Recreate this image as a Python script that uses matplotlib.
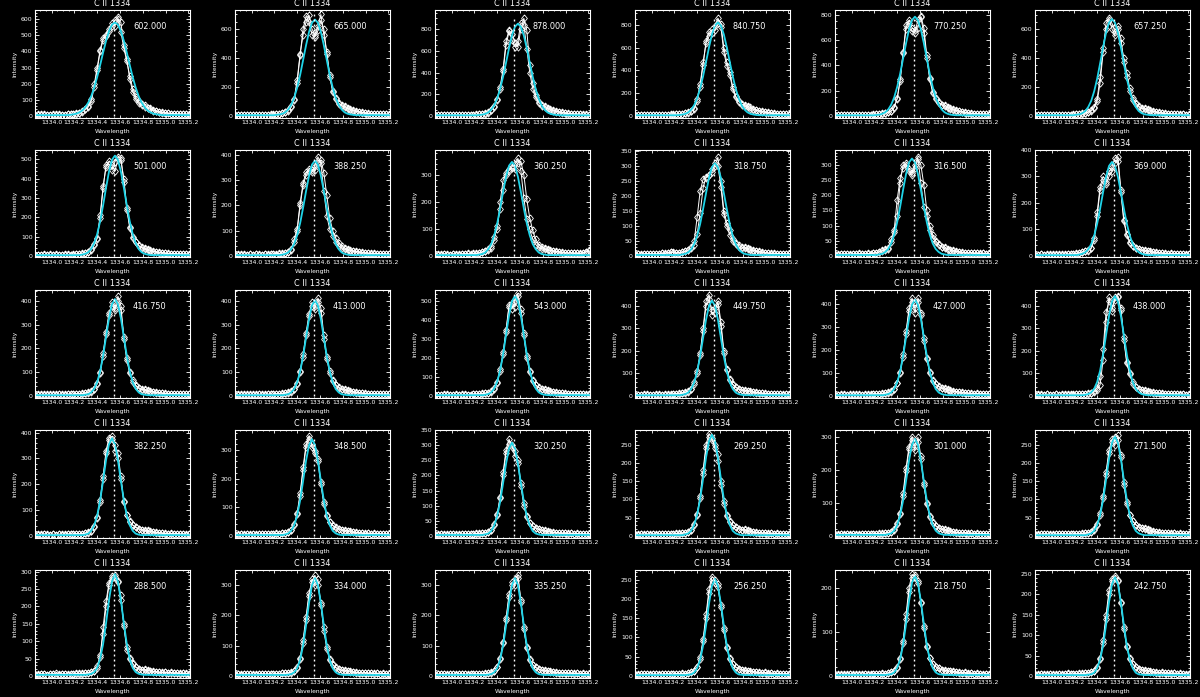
import numpy as np
import matplotlib
matplotlib.use("Agg")
import matplotlib.pyplot as plt
from matplotlib.ticker import FixedLocator, MultipleLocator, FormatStrFormatter

# ---------------- data ----------------
wave_start = 1333.854
wave_step = 0.026
n_wave = 53
wave = wave_start + wave_step * np.arange(n_wave)   # spectral sampling grid
line_center = 1334.548

x_min, x_max = 1333.854, 1335.215
x_ticks = [1334.0, 1334.2, 1334.4, 1334.6, 1334.8, 1335.0, 1335.2]
x_tick_labels = ["1334.0", "1334.2", "1334.4", "1334.6", "1334.8", "1335.0", "1335.2"]
panel_title = "C II 1334"
x_title = "Wavelength"
y_title = "Intensity"

peak_labels = [602.000, 665.000, 878.000, 840.750, 770.250, 657.250,
               501.000, 388.250, 360.250, 318.750, 316.500, 369.000,
               416.750, 413.000, 543.000, 449.750, 427.000, 438.000,
               382.250, 348.500, 320.250, 269.250, 301.000, 271.500,
               288.500, 334.000, 335.250, 256.250, 218.750, 242.750]
y_top = [657, 731, 977, 930, 840, 732,
         548, 420, 392, 352, 349, 400,
         446, 446, 560, 470, 460, 470,
         410, 370, 350, 290, 320, 290,
         305, 350, 350, 275, 240, 260]
y_step = [100, 200, 200, 200, 200, 200,
          100, 100, 100, 50, 50, 100,
          100, 100, 100, 100, 100, 100,
          100, 100, 50, 50, 100, 50,
          50, 100, 100, 50, 100, 50]

# two observed profiles (A, B) and the fitted profile, all on the wavelength grid
obs_a_01 = [8,6,9,7,5,8,6,9,7,8,6,9,10,12,15,20,30,45,62,103,195,300,410,483,495,525,560,592,612,520,421,339,250,170,118,90,72,58,48,40,33,28,24,20,18,15,13,12,10,11,9,10,8]
obs_b_01 = [6,9,7,10,8,6,9,7,10,8,7,10,9,12,14,18,26,40] + [55,90,180,285,400,470,505,540,575,560,600,580,440,350,230,150,105,80,65] + [66,52,46,36,32,27,24,19,18,14,14,11,12,10,11,9]
fit_01 = [5]*12 + [7,10,14,22,34,54,83,123,176,241,315,393,466,526,566,580,566,526,466,393,315,241,176,123,83,54,34,22,14,10,7] + [5]*10

obs_a_02 = [7,5,8,6,9,5,7,8,6,9,7,8,10,9,11,13,18,28,40,69,120,250,430,560,650,695,600,560,620,700,560,440,280,175,125,90,72,60,50,42,36,30,26,22,19,16,14,13,11,12,10,11,9]
obs_b_02 = [6,8,7,9,6,8,9,7,8,6,9,8,9,11,12,15,20,26] + [35,60,110,230,420,600,690,650,560,545,590,660,600,430,270,165,115,85,68] + [68,57,47,40,35,29,25,21,19,16,15,12,13,11,12,10]
fit_02 = [5]*14 + [7,10,15,25,45,77,126,195,283,385,488,580,643,665,643,580,488,385,283,195,126,77,45,25,15,10,7] + [5]*12

obs_a_03 = [9,7,10,8,6,9,8,10,7,9,8,10,9,11,12,14,17,22,35,55,92,160,270,430,690,790,760,670,640,800,900,790,470,300,190,130,100,80,66,56,48,40,34,29,25,21,18,16,14,15,12,13,11]
obs_b_03 = [8,10,7,9,11,8,10,9,11,8,10,9,12,13,14,16,20,25] + [30,50,85,150,250,410,650,780,700,640,690,860,840,620,400,250,170,120,95] + [92,75,64,53,46,38,33,28,24,21,18,16,17,14,15,12]
fit_03 = [6]*15 + [9,12,19,32,57,98,161,249,362,492,625,742,822,851,822,742,625,492,362,249,161,98,57,32,19,12,9] + [6]*11

obs_a_04 = [9,8,10,7,9,8,10,9,8,11,9,10,12,11,13,15,18,24,34,45,58,131,256,450,654,741,727,790,858,808,600,470,384,256,174,130,105,88,75,65,56,48,42,36,31,27,23,20,17,16,14,13,12]
obs_b_04 = [10,8,11,9,10,8,11,10,9,12,10,11,13,14,15,17,20,24] + [28,40,70,150,280,470,640,700,760,750,820,780,560,440,360,240,165,125,100] + [100,86,74,63,55,47,41,35,30,26,23,20,18,16,15,13]
fit_04 = [6]*15 + [8,12,18,31,55,95,155,241,349,475,603,716,793,821,793,716,603,475,349,241,155,95,55,31,18,12,8] + [6]*11

obs_a_05 = [8,6,9,7,8,6,9,8,7,9,8,10,9,11,12,14,18,24,30,38,70,136,276,504,722,735,670,661,761,782,656,459,289,184,135,105,88,75,64,55,47,40,35,30,26,22,19,16,15,14,12,13,11]
obs_b_05 = [7,9,6,8,9,7,10,9,8,10,7,11,10,12,13,16,20,24] + [28,40,65,140,290,500,690,760,700,680,700,790,700,480,300,190,140,110,90] + [86,73,63,54,46,40,34,29,25,21,19,17,16,14,15,12]
fit_05 = [5]*14 + [7,10,17,29,52,90,148,230,334,455,577,686,760,787,760,686,577,455,334,230,148,90,52,29,17,10,7] + [5]*12

obs_a_06 = [7,6,8,5,7,9,6,8,7,9,6,8,9,8,10,12,15,20,28,40,60,100,230,440,640,675,600,561,618,503,400,300,190,125,90,70,57,47,40,34,29,25,21,18,16,14,12,11,10,9,10,8,9]
obs_b_06 = [6,8,7,9,6,8,7,9,8,6,9,7,8,10,11,13,17,22] + [25,35,55,120,270,470,600,660,640,580,600,540,370,270,175,110,80,62,50] + [55,46,39,33,28,24,21,18,16,14,13,11,10,11,9,10]
fit_06 = [5]*14 + [8,11,19,34,62,105,171,258,364,475,575,645,670,645,575,475,364,258,171,105,62,34,19,11,8] + [5]*14

obs_a_07 = [6,5,7,4,6,8,5,7,6,5,8,6,7,6,8,9,11,15,22,35,60,90,197,351,471,476,445,488,510,505,385,240,146,94,70,52,42,35,30,26,22,19,17,15,13,12,10,11,9,10,8,9,7]
obs_b_07 = [5,7,6,8,5,7,6,8,7,6,5,8,7,9,10,12,14,16] + [18,30,55,95,210,360,460,490,470,440,500,495,400,250,150,98,72,55,44] + [40,34,30,25,22,19,17,15,13,12,12,10,11,9,10,8]
fit_07 = [4]*16 + [7,11,19,36,66,113,179,262,353,437,497,519,497,437,353,262,179,113,66,36,19,11,7] + [4]*14

obs_a_08 = [5,4,6,3,5,7,4,6,5,4,6,5,7,6,5,8,9,12,16,26,66,108,210,289,332,338,332,357,393,367,256,160,105,79,55,40,32,27,23,20,18,16,14,12,11,10,9,8,9,7,8,6,7]
obs_b_08 = [4,6,5,7,4,6,5,7,6,4,7,6,8,7,9,10,11,12] + [14,24,55,100,200,280,320,345,340,340,370,380,330,240,150,100,70,50,38] + [31,27,23,20,18,16,14,12,11,10,10,9,8,9,7,8]
fit_08 = [3]*16 + [5,8,14,27,48,82,130,191,257,318,362,378,362,318,257,191,130,82,48,27,14,8,5] + [3]*14

obs_a_09 = [5,4,6,7,5,4,8,6,5,7,6,9,5,7,8,10,14,20,25,31,70,98,200,280,306,315,330,340,361,316,214,137,98,61,42,33,27,24,21,19,17,15,14,12,11,10,11,9,10,8,11,14,20]
obs_b_09 = [4,6,5,8,6,5,7,5,6,8,7,6,8,9,10,12,15,18] + [22,35,60,110,175,245,300,320,325,320,345,350,300,210,140,95,62,42,32] + [28,24,21,19,17,15,14,12,11,12,10,11,9,12,16,22]
fit_09 = [3]*15 + [5,7,13,25,44,76,120,176,237,293,334,348,334,293,237,176,120,76,44,25,13,7,5] + [3]*15

obs_a_10 = [5,6,4,7,5,8,6,5,7,9,8,10,12,11,9,10,12,15,20,25,35,72,143,226,262,268,280,300,328,250,150,110,85,57,42,35,30,26,22,19,17,15,13,11,10,9,8,7,8,6,7,5,6]
obs_b_10 = [6,5,7,6,8,5,7,6,8,10,9,11,13,12,10,11,13,15] + [18,28,50,130,215,255,260,270,290,310,300,230,140,100,70,50,38,30,25] + [30,25,22,19,17,15,13,11,10,9,9,8,7,8,6,7]
fit_10 = [3]*16 + [5,7,12,22,40,67,106,156,209,260,295,308,295,260,209,156,106,67,40,22,12,7,5] + [3]*14

obs_a_11 = [5,4,6,5,7,4,6,5,8,6,5,7,6,9,11,14,18,22,27,55,87,185,256,290,305,286,273,300,325,240,160,133,87,60,45,36,30,25,21,18,16,14,12,11,10,9,10,8,9,7,8,6,7]
obs_b_11 = [4,6,5,7,5,6,7,5,6,7,6,8,7,9,11,13,16,20] + [24,45,80,130,240,300,300,280,265,290,318,300,235,150,100,68,50,38,30] + [29,24,21,18,16,14,12,11,10,11,9,10,8,9,7,8]
fit_11 = [3]*15 + [5,7,13,23,41,70,111,162,218,270,308,321,308,270,218,162,111,70,41,23,13,7,5] + [3]*15

obs_a_12 = [5,4,6,5,4,7,5,6,4,7,5,6,8,7,9,11,14,18,24,31,69,165,262,300,281,319,335,369,375,250,137,81,50,38,30,26,22,19,17,15,13,12,11,10,9,8,9,7,8,6,7,5,6]
obs_b_12 = [4,5,7,4,6,5,7,5,6,5,6,7,6,8,10,12,15,18] + [20,28,60,150,250,285,270,300,320,350,360,240,130,80,52,38,30,25,21] + [22,19,17,15,14,12,11,10,9,10,8,9,7,8,6,7]
fit_12 = [3]*15 + [5,8,14,25,45,77,122,179,241,299,340,355,340,299,241,179,122,77,45,25,14,8,5] + [3]*15

obs_a_13 = [5,4,6,5,7,4,6,5,7,6,5,8,6,7,9,8,10,12,15,20,30,55,100,180,270,350,380,370,420,380,250,160,100,65,45,35,28,24,20,18,16,14,12,11,10,9,8,9,7,8,6,7,6]
obs_b_13 = [4,6,5,7,5,6,4,7,6,5,7,6,8,7,9,10,11,12] + [14,18,28,50,95,170,260,340,395,360,400,360,240,150,95,60,42,32,26] + [28,23,20,18,16,14,12,11,10,9,10,8,9,7,8,7]
fit_13 = [3]*17 + [5,7,15,30,58,104,169,249,327,386,408,386,327,249,169,104,58,30,15,7,5] + [3]*15

obs_a_14 = [4,6,5,7,5,6,4,7,6,5,8,6,7,6,8,9,10,12,15,20,30,55,105,175,265,345,395,365,412,370,255,165,105,68,48,37,30,25,21,18,16,14,12,11,10,9,8,9,7,8,6,7,6]
obs_b_14 = [5,4,6,5,7,5,6,4,7,6,5,7,6,8,9,10,11,12] + [14,18,28,52,100,165,255,335,380,380,395,350,240,155,98,62,44,33,27] + [29,24,21,18,16,14,12,11,10,9,10,8,9,7,8,7]
fit_14 = [3]*17 + [5,7,15,29,57,103,167,246,323,381,403,381,323,246,167,103,57,29,15,7,5] + [3]*15

obs_a_15 = [6,5,7,5,8,6,5,7,6,8,5,7,6,8,9,10,12,14,18,25,40,75,140,230,350,480,460,500,543,440,320,200,125,80,56,44,36,30,26,22,19,17,15,13,12,11,10,9,10,8,9,7,8]
obs_b_15 = [5,7,6,8,5,7,6,8,7,5,8,6,7,9,10,11,13,14] + [16,22,36,70,130,220,340,470,490,470,530,460,330,210,130,82,58,45,36] + [35,30,26,22,19,17,15,14,12,11,10,11,9,10,8,9]
fit_15 = [4]*17 + [6,10,19,39,75,135,220,323,425,501,529,501,425,323,220,135,75,39,19,10,6] + [4]*15

obs_a_16 = [5,4,6,5,7,4,6,5,7,6,5,8,6,7,9,10,12,15,20,32,60,110,190,300,420,450,360,370,420,330,200,120,75,52,40,32,27,23,20,18,16,14,12,11,10,9,8,9,7,8,6,7,6]
obs_b_16 = [4,6,5,7,4,6,5,7,6,5,7,6,8,9,10,12,14,16] + [18,30,55,100,180,290,400,430,380,390,410,310,190,115,72,50,38,30,25] + [27,23,21,18,16,14,12,11,10,9,10,8,9,7,8,7]
fit_16 = [3]*16 + [5,8,15,31,60,108,176,258,339,400,423,400,339,258,176,108,60,31,15,8,5] + [3]*16

obs_a_17 = [5,6,4,7,5,6,8,5,7,6,5,7,6,8,7,9,10,12,15,21,32,58,105,180,280,380,425,360,425,360,250,165,105,70,52,42,35,30,26,22,19,17,15,13,12,11,10,9,10,8,9,7,8]
obs_b_17 = [6,4,7,5,6,8,5,7,6,5,7,6,8,7,9,10,11,12] + [14,19,30,55,100,170,270,370,410,380,410,350,240,160,100,66,50,40,33] + [35,30,26,22,19,17,15,14,12,11,10,11,9,10,8,9]
fit_17 = [3]*17 + [5,8,15,30,59,106,174,255,335,396,418,396,335,255,174,106,59,30,15,8,5] + [3]*15

obs_a_18 = [6,4,7,5,8,6,5,7,6,4,8,6,7,5,8,9,7,9,11,14,18,25,50,160,330,438,379,438,438,390,250,144,96,55,38,31,26,22,19,16,14,12,11,10,9,8,9,7,8,6,7,5,6]
obs_b_18 = [5,7,4,6,7,5,6,8,5,7,5,7,6,8,7,8,9,9] + [10,15,22,35,88,206,371,420,390,425,445,380,260,150,100,60,40,32,27] + [26,22,19,16,14,12,11,10,9,10,8,9,7,8,6,7]
fit_18 = [3]*17 + [5,8,16,32,62,113,184,270,355,419,443,419,355,270,184,113,62,32,16,8,5] + [3]*15

obs_a_19 = [5,4,6,7,5,4,6,5,7,6,5,8,6,7,6,8,9,11,14,20,38,75,140,230,330,380,385,330,320,230,130,80,55,42,34,28,24,20,18,16,14,12,11,10,9,8,9,7,8,6,7,5,6]
obs_b_19 = [4,6,5,7,6,5,7,4,6,5,7,6,8,7,9,8,9,10] + [12,18,35,70,130,220,320,370,375,350,300,220,135,82,56,42,33,27,23] + [24,21,18,16,14,12,11,10,9,10,8,9,7,8,6,7]
fit_19 = [3]*17 + [5,9,20,41,79,138,214,294,355,378,355,294,214,138,79,41,20,9,5] + [3]*17

obs_a_20 = [4,5,6,4,7,5,6,4,5,7,6,5,7,6,8,7,9,10,13,20,40,80,150,240,320,350,310,295,260,180,110,70,48,36,29,25,21,18,16,14,12,11,10,9,8,9,7,8,6,7,5,6,5]
obs_b_20 = [5,4,6,5,7,4,6,5,6,5,7,6,8,7,9,8,9,10] + [12,19,38,75,140,230,310,340,320,290,270,190,120,72,50,37,30,25,21] + [21,18,16,14,12,11,10,9,10,8,9,7,8,6,7,6]
fit_20 = [3]*17 + [5,9,18,37,71,124,192,263,317,338,317,263,192,124,71,37,18,9,5] + [3]*17

obs_a_21 = [5,4,6,5,4,7,5,6,4,6,5,7,6,5,7,8,9,10,13,20,38,72,130,210,285,320,295,280,240,165,100,62,42,32,26,22,19,16,14,12,11,10,9,8,9,7,8,6,7,5,6,5,6]
obs_b_21 = [4,5,6,4,6,5,7,4,6,5,6,7,5,6,8,7,9,10] + [12,18,36,68,125,200,275,305,300,265,250,175,110,66,44,33,27,22,19] + [19,16,14,12,11,10,9,10,8,9,7,8,6,7,6,7]
fit_21 = [3]*17 + [5,8,16,34,65,113,175,239,289,308,289,239,175,113,65,34,16,8,5] + [3]*17

obs_a_22 = [4,3,5,4,6,3,5,4,6,5,4,6,5,4,6,7,8,9,11,17,32,60,110,180,250,280,262,250,205,140,88,55,38,29,24,20,17,15,13,11,10,9,8,7,8,6,7,5,6,5,4,5,4]
obs_b_22 = [3,4,5,3,5,4,6,3,5,4,5,4,6,5,7,6,8,9] + [10,15,30,58,105,170,240,270,268,240,225,150,95,58,40,30,24,20,17] + [18,15,13,11,10,9,8,9,7,8,6,7,6,5,6,5]
fit_22 = [2]*17 + [4,7,14,30,58,101,157,215,260,277,260,215,157,101,58,30,14,7,4] + [2]*17

obs_a_23 = [5,4,6,5,7,4,6,5,4,7,5,6,5,7,6,8,7,9,10,13,20,38,70,130,205,270,300,260,298,240,160,95,58,40,30,24,20,17,15,13,11,10,9,8,9,7,8,6,7,5,6,5,6]
obs_b_23 = [4,5,6,4,6,5,7,4,6,5,6,7,6,5,7,6,8,8] + [9,12,18,35,66,120,195,262,290,272,285,232,155,98,60,41,31,25,21] + [20,17,15,13,11,10,9,10,8,9,7,8,6,7,6,7]
fit_23 = [3]*18 + [5,8,16,32,62,107,166,228,275,293,275,228,166,107,62,32,16,8,5] + [3]*16

obs_a_24 = [4,3,5,4,6,3,5,4,6,5,4,6,5,4,6,5,7,8,9,12,18,33,62,110,175,235,265,270,275,215,140,88,56,40,31,25,21,18,15,13,11,10,9,8,7,8,6,7,5,6,5,4,5]
obs_b_24 = [3,5,4,6,4,5,3,5,4,6,5,4,5,6,4,6,6,7] + [8,11,16,30,58,104,168,228,258,250,262,222,148,92,58,41,31,25,21] + [21,18,15,13,11,10,9,8,9,7,8,6,7,6,5,6]
fit_24 = [2]*18 + [4,7,14,29,57,99,154,211,255,272,255,211,154,99,57,29,14,7,4] + [2]*16

obs_a_25 = [5,4,6,5,4,6,5,7,4,6,5,4,6,5,7,5,6,8,9,11,14,22,55,140,215,268,288,290,272,232,145,75,53,36,26,21,18,16,15,13,12,11,10,9,10,8,9,7,8,6,7,6,5]
obs_b_25 = [4,5,5,6,4,5,6,4,6,5,6,5,5,6,6,7,7,7] + [8,10,13,28,60,120,200,262,282,285,270,220,150,82,50,34,25,20,17] + [19,17,15,13,12,11,10,11,9,10,8,9,7,8,7,6]
fit_25 = [3]*18 + [4,6,11,23,49,92,152,219,272,293,272,219,152,92,49,23,11,6,4] + [3]*16

obs_a_26 = [5,6,4,7,5,6,4,5,7,6,5,7,6,5,7,6,8,9,10,12,16,28,60,120,195,275,310,332,300,240,160,95,55,38,28,23,19,17,15,13,12,11,10,9,10,8,9,7,8,6,7,6,5]
obs_b_26 = [6,5,7,5,6,5,6,4,6,7,6,5,7,6,6,7,8,8] + [9,11,15,26,55,110,185,265,320,300,320,235,150,90,52,36,27,22,18] + [20,17,15,13,12,11,10,11,9,10,8,9,7,8,7,6]
fit_26 = [3]*18 + [4,6,12,25,53,101,167,241,300,323,300,241,167,101,53,25,12,6,4] + [3]*16

obs_a_27 = [4,6,5,7,4,5,6,4,7,5,6,4,7,6,5,6,7,8,9,12,17,30,58,112,190,270,300,320,335,245,155,92,54,37,28,23,19,17,15,13,12,11,10,9,10,8,9,7,8,6,7,6,5]
obs_b_27 = [5,5,6,6,5,6,5,5,6,6,5,5,6,7,6,7,7,7] + [8,11,16,28,55,108,185,260,310,300,325,250,160,95,55,37,28,22,18] + [20,17,15,13,12,11,10,11,9,10,8,9,7,8,7,6]
fit_27 = [3]*18 + [4,6,12,25,53,101,167,241,300,323,300,241,167,101,53,25,12,6,4] + [3]*16

obs_a_28 = [4,3,5,4,6,3,5,4,3,5,4,6,5,4,5,6,7,6,8,10,14,24,48,95,160,225,258,250,230,180,118,72,44,30,23,19,16,14,12,11,10,9,8,7,8,6,7,5,6,5,4,5,4]
obs_b_28 = [3,4,4,5,5,4,4,5,4,4,5,5,4,5,6,5,6,6] + [7,9,13,22,45,90,150,215,250,240,238,185,125,76,46,31,23,19,16] + [16,14,12,11,10,9,8,9,7,8,6,7,6,5,6,5]
fit_28 = [2]*18 + [3,4,9,20,41,79,131,188,234,252,234,188,131,79,41,20,9,4,3] + [2]*16

obs_a_29 = [3,4,2,5,3,4,5,3,4,2,5,4,3,5,4,5,6,5,7,9,12,20,40,80,140,200,230,225,215,165,108,65,40,27,21,17,14,12,11,10,9,8,7,6,7,5,6,4,5,4,3,4,3]
obs_b_29 = [4,3,4,3,4,4,3,4,3,4,4,3,4,4,5,5,5,5] + [6,8,11,19,38,75,130,190,222,228,210,168,112,68,41,28,21,17,14] + [14,12,11,10,9,8,7,8,6,7,5,6,5,4,5,4]
fit_29 = [2]*18 + [3,4,8,18,37,71,118,169,211,227,211,169,118,71,37,18,8,4,3] + [2]*16

obs_a_30 = [4,3,5,3,4,5,3,4,5,3,4,6,4,5,4,6,5,7,8,10,13,22,44,88,150,210,238,245,232,178,115,70,42,29,22,18,15,13,12,10,9,8,7,8,6,7,5,6,4,5,4,3,4]
obs_b_30 = [3,4,4,4,3,4,4,3,4,4,4,5,4,5,5,5,6,6] + [7,9,12,20,42,82,140,200,232,240,236,182,120,73,44,30,23,18,15] + [15,13,12,10,9,8,9,7,8,6,7,5,6,5,4,5]
fit_30 = [2]*18 + [3,4,8,19,40,75,125,181,225,242,225,181,125,75,40,19,8,4,3] + [2]*16

obs_a = [obs_a_01, obs_a_02, obs_a_03, obs_a_04, obs_a_05, obs_a_06,
         obs_a_07, obs_a_08, obs_a_09, obs_a_10, obs_a_11, obs_a_12,
         obs_a_13, obs_a_14, obs_a_15, obs_a_16, obs_a_17, obs_a_18,
         obs_a_19, obs_a_20, obs_a_21, obs_a_22, obs_a_23, obs_a_24,
         obs_a_25, obs_a_26, obs_a_27, obs_a_28, obs_a_29, obs_a_30]
obs_b = [obs_b_01, obs_b_02, obs_b_03, obs_b_04, obs_b_05, obs_b_06,
         obs_b_07, obs_b_08, obs_b_09, obs_b_10, obs_b_11, obs_b_12,
         obs_b_13, obs_b_14, obs_b_15, obs_b_16, obs_b_17, obs_b_18,
         obs_b_19, obs_b_20, obs_b_21, obs_b_22, obs_b_23, obs_b_24,
         obs_b_25, obs_b_26, obs_b_27, obs_b_28, obs_b_29, obs_b_30]
fits = [fit_01, fit_02, fit_03, fit_04, fit_05, fit_06,
        fit_07, fit_08, fit_09, fit_10, fit_11, fit_12,
        fit_13, fit_14, fit_15, fit_16, fit_17, fit_18,
        fit_19, fit_20, fit_21, fit_22, fit_23, fit_24,
        fit_25, fit_26, fit_27, fit_28, fit_29, fit_30]

# ---------------- style ----------------
FIG_W, FIG_H = 1200, 697
COL_W, ROW_H = 200, 140
BOX_L, BOX_R, BOX_T, BOX_B = 35, 190, 10, 117.5
FIT_COLOR = "#1ed4e8"
diamond = [(0, 1), (0.8, 0), (0, -1), (-0.8, 0), (0, 1)]

plt.rcParams["font.family"] = "DejaVu Sans"

fig = plt.figure(figsize=(FIG_W / 100, FIG_H / 100), dpi=100, facecolor="black")

for k in range(30):
    r, c = divmod(k, 6)
    left = (COL_W * c + BOX_L) / FIG_W
    bottom = 1 - (ROW_H * r + BOX_B) / FIG_H
    ax = fig.add_axes([left, bottom, (BOX_R - BOX_L) / FIG_W, (BOX_B - BOX_T) / FIG_H])
    ax.set_facecolor("black")
    for s in ax.spines.values():
        s.set_color("white")
        s.set_linewidth(0.8)

    ya = np.asarray(obs_a[k], dtype=float)
    yb = np.asarray(obs_b[k], dtype=float)
    yf = np.asarray(fits[k], dtype=float)

    mk = dict(color="white", lw=0.7, marker=diamond, ms=5.2, mfc="none",
              mec="white", mew=0.6)
    ax.plot(wave[:len(yb)], yb, **mk)
    ax.plot(wave[:len(ya)], ya, **mk)
    ax.plot(wave[:len(yf)], yf, color=FIT_COLOR, lw=1.3)

    ymax_data = max(ya.max(), yb.max())
    ax.plot([line_center, line_center], [0, ymax_data], color="white", lw=1.0,
            linestyle=(0, (1.4, 2.2)))

    top = y_top[k]
    ax.set_xlim(x_min, x_max)
    ax.set_ylim(-0.015 * top, top)

    ax.xaxis.set_major_locator(FixedLocator(x_ticks))
    ax.set_xticklabels(x_tick_labels)
    ax.xaxis.set_minor_locator(MultipleLocator(0.05))
    st = y_step[k]
    ax.yaxis.set_major_locator(MultipleLocator(st))
    ax.yaxis.set_minor_locator(MultipleLocator(st / 4 if st == 200 else st / 5))
    ax.yaxis.set_major_formatter(FormatStrFormatter("%d"))

    ax.tick_params(which="both", direction="in", top=True, right=True,
                   colors="white", labelcolor="white", width=0.6)
    ax.tick_params(axis="x", which="major", length=2.0, labelsize=4.4, pad=1.8)
    ax.tick_params(axis="x", which="minor", length=1.0)
    ax.tick_params(axis="y", which="major", length=2.6, labelsize=4.4, pad=1.8)
    ax.tick_params(axis="y", which="minor", length=1.3)

    ax.text(0.5, 1.065, panel_title, transform=ax.transAxes, ha="center",
            va="center", color="white", fontsize=5.9)
    ax.text(0.5, -0.13, x_title, transform=ax.transAxes, ha="center",
            va="center", color="white", fontsize=4.3)
    ax.text(-0.13, 0.5, y_title, transform=ax.transAxes, ha="center",
            va="center", rotation=90, color="white", fontsize=4.3)
    ax.text(0.632, 0.85, f"{peak_labels[k]:.3f}", transform=ax.transAxes,
            ha="left", va="center", color="white", fontsize=5.9)

fig.savefig("out.png", dpi=100, facecolor="black")
